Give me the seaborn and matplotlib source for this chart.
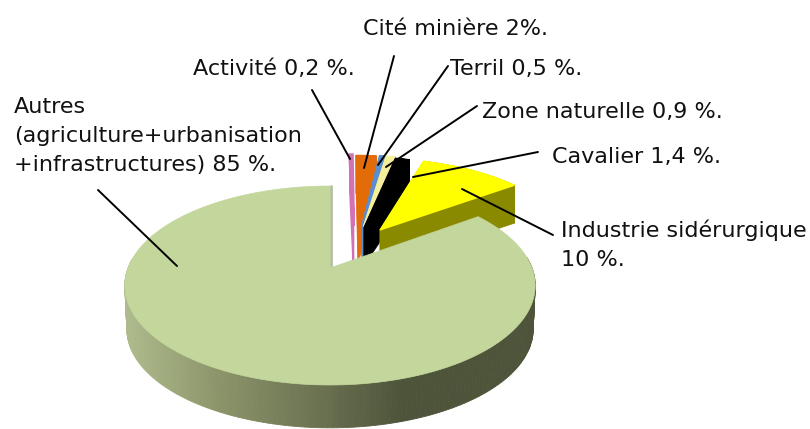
import numpy as np
import matplotlib
matplotlib.use('Agg')
import matplotlib.pyplot as plt
import seaborn as sns

labels = ['Autres\n(agriculture+urbanisation\n+infrastructures) 85 %.',
          'Industrie sidérurgique\n10 %.', 'Cavalier 1,4 %.', 'Zone naturelle 0,9 %.',
          'Terril 0,5 %.', 'Cité minière 2%.', 'Activité 0,2 %.']
values = [85, 10, 1.4, 0.9, 0.5, 2, 0.2]
face_colors = ['#c3d69b', '#ffff00', '#000000', '#f5ee9a', '#5b8ecf', '#e36c09', '#d272b4']
wall_colors = ['#6d7553', '#8a8a00', '#000000', '#f5ee9a', '#5b8ecf', '#e36c09', '#d272b4']

# how far each slice was pulled out of the pie, in pie radius units
slice_shift = [(0, 0), (0.266, 0.424), (0.181, 0.448), (0.18, 0.47), (0.17, 0.47), (0.15, 0.47), (0.125, 0.476)]
slice_depth = [44, 38, 38, 38, 38, 38, 38]
slice_edge = [0.5, 1, 1, 1, 1, 1, 2.5]   # the 0,2 % slice would be invisible otherwise

# label baseline (last line), leader line start, leader line end (pixels)
label_pos = [(14, 171), (561, 266), (552, 163), (482, 118), (450, 75), (363, 35), (193, 75)]
leader_from = [(98, 190), (553, 235), (538, 152), (477, 106), (448, 66), (394, 56), (312, 90)]
leader_to = [(177, 266), (462, 189), (413, 177), (386, 167), (378, 165), (364, 168), (350, 159)]

X0, Y0 = 330, 268      # apex of the big slice
RX, RY = 202, 96.4     # projected radius
PERSP = 0.176
MAIN_BOTTOM_SCALE = 0.99


def project(u, v, depth=0, scale=1):
	w = 1 + PERSP * v
	return X0 + RX * scale * u / w, Y0 - RY * scale * v / w + depth


def outline(wedge, shift, n=240):
	t = np.radians(np.linspace(wedge.theta1, wedge.theta2, n))
	u = np.r_[0, np.cos(t), 0] + shift[0]
	v = np.r_[0, np.sin(t), 0] + shift[1]
	return u, v


sns.set_theme(style='white')
plt.rcParams['font.family'] = ['DejaVu Sans']

fig = plt.figure(figsize=(8.1, 4.29), dpi=100)
ax = fig.add_axes([0, 0, 1, 1])
wedges, _ = ax.pie(values, startangle=90, counterclock=True, normalize=True)
outlines = [outline(w, s) for w, s in zip(wedges, slice_shift)]
for w in wedges:
	w.remove()
ax.set_aspect('auto')
ax.set_xlim(0, 810)
ax.set_ylim(429, 0)
ax.axis('off')

wall_cmap = sns.blend_palette(['#aebb8c', '#8b9469', '#6d7553', '#4e543a', '#4e543a'], as_cmap=True)

# thin slices first, the yellow one sits over them, big slice last
for i in range(len(values) - 1, 0, -1):
	z = len(values) - i
	u, v = outlines[i]
	xt, yt = project(u, v)
	xb, yb = project(u, v, depth=slice_depth[i])
	for k in range(len(xt) - 1):
		ax.fill([xt[k], xt[k + 1], xb[k + 1], xb[k]], [yt[k], yt[k + 1], yb[k + 1], yb[k]],
			color=wall_colors[i], lw=slice_edge[i] * 0.5, zorder=z)
	ax.fill(xt, yt, color=face_colors[i], lw=slice_edge[i], zorder=z + 0.5)

u, v = outlines[0]
xt, yt = project(u, v)
xb, yb = project(u, v, depth=slice_depth[0], scale=MAIN_BOTTOM_SCALE)
for k in range(1, len(xt) - 2):
	if v[k] < 0.1:
		c = wall_cmap(np.clip((xt[k] - 125) / 367, 0, 1))
		ax.fill([xt[k], xt[k + 1], xb[k + 1], xb[k]], [yt[k], yt[k + 1], yb[k + 1], yb[k]],
			color=c, lw=0.6, zorder=10)
ax.plot([xt[0] + 1, xt[1] + 1], [yt[0], yt[1]], color='#b4bf9e', lw=2, zorder=10)
ax.fill(xt, yt, color=face_colors[0], lw=slice_edge[0], zorder=11)

for lab, pos, a, b in zip(labels, label_pos, leader_from, leader_to):
	ax.plot([a[0], b[0]], [a[1], b[1]], color='black', lw=1.4, zorder=20, solid_capstyle='round')
	ax.text(pos[0], pos[1], lab, fontsize=16, color='#111111', va='baseline', ha='left', linespacing=1.56, zorder=21)

fig.savefig('out.png', dpi=100)
